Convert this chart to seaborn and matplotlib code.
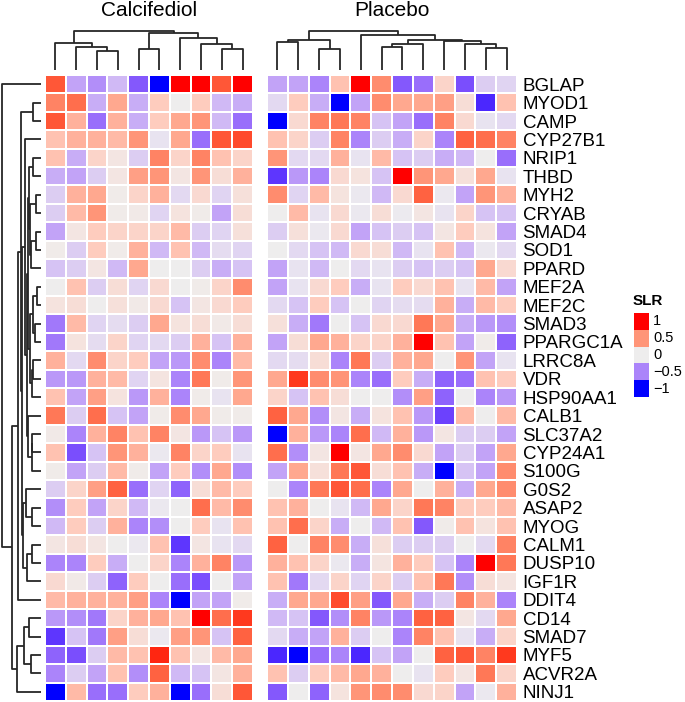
import numpy as np
import pandas as pd
import seaborn as sns
import matplotlib.pyplot as plt
from matplotlib.colors import LinearSegmentedColormap, to_rgb

genes = ["BGLAP", "MYOD1", "CAMP", "CYP27B1", "NRIP1", "THBD", "MYH2", "CRYAB",
         "SMAD4", "SOD1", "PPARD", "MEF2A", "MEF2C", "SMAD3", "PPARGC1A", "LRRC8A",
         "VDR", "HSP90AA1", "CALB1", "SLC37A2", "CYP24A1", "S100G", "G0S2", "ASAP2",
         "MYOG", "CALM1", "DUSP10", "IGF1R", "DDIT4", "CD14", "SMAD7", "MYF5",
         "ACVR2A", "NINJ1"]

# SLR values, rows in gene order, columns in displayed (dendrogram) order
calcifediol = [
    [0.8, -0.35, -0.45, -0.25, -0.7, -1, 1, 1, 0.8, 1],
    [0.6, 0.7, -0.3, 0.4, -0.3, 0.2, 0, 0.2, -0.25, -0.3],
    [0.8, 0.35, -0.6, 0.35, -0.3, 0.2, 0.4, 0.5, -0.25, -0.6],
    [0.25, 0.35, 0.35, 0.3, 0.5, -0.05, 0.4, -0.6, 0.8, 0.85],
    [0.25, -0.3, 0.15, 0.05, -0.15, 0.6, 0.15, 0.6, 0.25, 0.15],
    [-0.3, -0.35, -0.15, 0.05, 0.45, 0.5, 0.05, 0.5, 0.1, 0.35],
    [-0.15, 0.35, 0.4, 0.02, 0.15, 0.35, -0.1, 0.12, -0.12, 0.08],
    [-0.15, 0.3, 0.5, 0.02, 0.03, -0.12, 0.07, 0.02, -0.35, 0.1],
    [-0.35, 0.05, 0.2, 0.15, 0.15, 0.15, 0.3, -0.15, -0.12, 0.08],
    [0.02, -0.15, 0.2, 0.02, 0.35, -0.25, 0.25, -0.25, -0.08, -0.12],
    [-0.2, -0.15, 0.05, -0.25, 0.4, 0, 0, -0.15, -0.3, -0.2],
    [0, 0.25, -0.15, 0.1, -0.12, 0.12, 0, 0.02, 0.15, 0.55],
    [0.07, 0.1, 0, 0.08, 0.03, 0.12, -0.2, 0.05, 0.12, 0.2],
    [-0.55, 0.3, -0.12, -0.08, -0.15, 0.4, 0.07, 0.1, 0.03, 0.1],
    [-0.55, 0.07, -0.08, 0.15, -0.12, -0.1, -0.15, 0.35, -0.2, 0.35],
    [0.35, -0.1, 0.55, 0.15, 0.2, -0.35, -0.4, 0.55, -0.5, 0.3],
    [-0.4, -0.4, 0.35, 0.3, -0.12, 0.06, -0.5, 0.65, 0.02, 0.5],
    [0.25, -0.35, 0.45, 0.07, -0.4, 0.35, -0.5, 0.02, -0.05, 0.4],
    [0.65, -0.15, 0.7, -0.2, -0.35, 0.02, 0.55, 0.4, 0.02, 0.02],
    [0.03, -0.5, 0.35, 0.6, 0.25, 0.6, 0.05, -0.4, -0.2, -0.4],
    [0.25, -0.75, -0.2, 0.5, 0.35, -0.03, 0.6, 0.15, 0.2, -0.05],
    [0.02, -0.35, -0.15, 0.3, 0.02, -0.35, 0.2, -0.45, 0.4, -0.45],
    [-0.15, 0.15, 0.45, 0.75, -0.6, -0.12, -0.65, 0.1, 0.3, 0.2],
    [-0.45, 0.2, -0.35, 0.15, -0.25, -0.03, 0, 0.7, 0.3, 0.55],
    [-0.25, 0.2, -0.15, 0.35, -0.5, -0.45, 0, 0.2, -0.05, 0.25],
    [0.05, 0.1, 0.05, 0, -0.03, 0.25, -0.85, 0.05, -0.05, -0.1],
    [-0.5, -0.5, 0.2, -0.3, 0, 0.15, -0.5, 0.35, 0.6, -0.4],
    [0.12, 0.03, -0.15, -0.65, 0.2, 0, -0.6, -0.75, 0, -0.35],
    [0.3, 0.35, 0.35, 0.35, 0.45, -0.5, -1, -0.35, -0.35, 0.02],
    [-0.4, -0.45, -0.55, 0.15, 0.35, 0.4, 0.25, 1, 0.7, 0.9],
    [-0.85, -0.2, -0.55, 0.45, 0.1, -0.03, 0.45, 0.5, -0.2, 0.75],
    [-0.65, -0.75, -0.15, 0.3, 0.25, 0.95, 0.25, 0.05, 0.3, 0.4],
    [-0.5, -0.15, -0.35, 0.25, -0.45, 0.75, -0.25, -0.2, 0.05, 0.35],
    [-1, 0.3, -0.6, -0.6, 0.2, 0.35, -1, -0.6, 0.1, 0.8],
]

placebo = [
    [-0.35, -0.35, -0.5, 0.25, 1, 0.55, -0.7, -0.6, 0.15, -0.75, -0.15, -0.12],
    [-0.1, 0.2, -0.3, -1, -0.35, 0.55, 0.4, 0.4, 0.45, 0.1, -0.9, 0.25],
    [-1, 0.12, 0.6, 0.65, 0.6, -0.2, -0.35, -0.6, 0.6, 0.12, -0.05, -0.1],
    [0.25, 0.15, -0.15, 0.6, -0.5, -0.15, -0.3, 0.15, -0.5, 0.75, 0.7, 0.6],
    [0.5, -0.1, -0.1, 0.35, -0.05, 0.3, -0.2, -0.15, -0.3, -0.25, 0, -0.6],
    [-0.85, -0.4, -0.5, 0.12, 0.07, -0.2, 1, 0.5, 0.4, 0.08, 0.4, -0.05],
    [0.55, -0.12, 0.3, 0.07, -0.03, -0.25, 0.12, 0.75, -0.03, -0.35, 0.5, 0.35],
    [0, 0.3, -0.05, 0.12, -0.03, 0.1, -0.02, 0.05, -0.05, 0.15, -0.2, -0.2],
    [-0.15, 0.08, -0.03, 0.12, -0.35, -0.2, -0.15, -0.2, 0.05, 0.2, 0.07, -0.35],
    [0, -0.1, -0.2, -0.25, 0.12, 0.1, -0.25, -0.05, 0.25, -0.25, -0.03, -0.1],
    [-0.35, -0.05, -0.25, 0, -0.1, -0.05, -0.15, -0.2, -0.15, -0.2, 0.4, 0.12],
    [-0.35, -0.05, 0.12, 0.2, -0.3, -0.05, 0.2, 0.12, 0.25, -0.05, 0.3, -0.35],
    [-0.1, -0.2, 0.2, -0.2, 0, -0.12, -0.08, -0.08, 0.35, -0.3, 0.3, 0.2],
    [0.08, -0.3, -0.55, 0, -0.2, 0.12, 0.12, 0.65, 0.4, -0.3, -0.4, -0.45],
    [-0.35, 0.1, 0.4, 0.35, 0.15, 0.15, 0.35, 1, 0.25, -0.35, 0.02, -0.65],
    [-0.1, -0.08, 0.1, -0.5, 0.65, -0.15, 0.35, 0.4, 0, 0.5, -0.35, -0.05],
    [0.4, 0.9, 0.55, 0.5, -0.5, -0.6, 0.2, -0.3, -0.65, -0.6, 0.25, 0.2],
    [0.15, -0.2, 0.25, 0.1, 0, 0, -0.45, 0.45, -0.65, 0, -0.5, -0.4],
    [0.75, 0.4, -0.45, 0.05, -0.3, 0.07, 0.25, -0.4, -0.8, 0.3, 0, 0.3],
    [-1, 0.35, -0.4, -0.5, 0.7, -0.25, 0.35, -0.4, 0.05, -0.15, -0.15, -0.35],
    [0.7, -0.45, 0.05, 1, 0.05, 0.4, 0.55, 0.12, -0.35, -0.15, -0.35, 0.4],
    [-0.35, 0.4, 0.08, 0.65, 0.8, 0.1, 0.25, -0.3, -1, -0.2, -0.35, 0.55],
    [0, -0.5, 0.65, 0.8, 0.7, -0.5, 0.4, 0, 0.35, -0.3, 0.4, 0.55],
    [0.25, 0.35, 0, -0.05, -0.25, 0.4, 0.15, 0.65, 0.6, 0.2, 0.2, 0.3],
    [0.25, 0.7, 0.15, -0.3, 0, -0.25, 0.25, -0.7, 0.02, 0.25, 0.07, 0.25],
    [0.75, 0, 0.6, 0.55, -0.3, 0.08, -0.15, -0.15, -0.15, 0, -0.1, 0.6],
    [0.35, 0.25, 0.15, -0.03, -0.3, 0.06, 0.35, 0.2, -0.2, -0.5, 1, 0.65],
    [0.25, -0.55, -0.1, 0.15, -0.12, 0.15, -0.15, 0.25, 0.65, -0.45, 0.1, 0.06],
    [-0.3, 0.4, 0.4, 0.85, 0.45, -0.7, 0.4, -0.3, -0.15, 0.6, 0.35, -0.5],
    [-0.25, -0.2, -0.7, -0.45, 0.6, -0.4, -0.5, 0.75, 0.75, 0.05, -0.1, 0.4],
    [-0.1, -0.3, -0.35, 0.35, -0.15, 0, -0.5, 0.6, 0.25, -0.05, -0.3, 0.15],
    [-0.9, -1, -0.6, -0.5, -0.9, -0.2, -0.35, 0, 0.75, 0.8, 0.6, 0.9],
    [0.25, -0.15, 0.2, 0.3, 0.4, 0.35, 0, -0.05, 0.2, 0.05, 0.65, 0.15],
    [-0.7, 0, -0.65, 0.07, 0.5, 0.55, 0.55, 0.12, 0.15, -0.35, -0.03, 0.35],
]

# dendrograms: [left, right, merge height], leaves are displayed positions
calc_tree = [[0, [1, [2, 3, 58], 70], 82],
             [[4, 5, 62], [6, [7, [8, 9, 62], 77], 97], 110], 117]
plac_tree = [[[0, 1, 83], [2, 3, 63], 90],
             [4, [[[5, 6, 70], 7, 77], [8, [9, [10, 11, 65], 77], 88], 90], 105], 118]

row_g1 = [[4, 5, 7.7], [[6, 7, 5.3], [[8, 9, 5.3], 10, 10], 11], 12]
row_g2 = [[[11, 12, 4.3], [13, 14, 6], 8], [[15, 16, 8], 17, 9], 10.7]
row_h = [18, [[19, 20, 8.7], 21, 9.5], 12.7]
row_w = [[22, [23, 24, 8.7], 15], [[25, 26, 8.7], 27, 14.3], 17.7]
row_y = [[3, [[row_g1, row_g2, 13], row_h, 14], 16], row_w, 19.3]
row_b = [[[1, 2, 7.7], row_y, 20.3], 28, 22.7]
row_c = [[[29, 30, 11.7], [31, 32, 10.3], 17], 33, 23.7]
row_tree = [0, [row_b, row_c, 28.7], 39.3]

legend_values = [1, 0.5, 0, -0.5, -1]
legend_labels = ["1", "0.5", "0", "\u22120.5", "\u22121"]

# colour ramp blue - #EEEEEE - red interpolated in LAB space
M = np.array([[0.4124, 0.3576, 0.1805], [0.2126, 0.7152, 0.0722], [0.0193, 0.1192, 0.9505]])
WHITE = np.array([0.95047, 1.0, 1.08883])


def to_lab(col):
    rgb = np.array(to_rgb(col))
    lin = np.where(rgb <= 0.04045, rgb / 12.92, ((rgb + 0.055) / 1.055) ** 2.4)
    xyz = M @ lin / WHITE
    f = np.where(xyz > (6 / 29) ** 3, np.cbrt(xyz), xyz / (3 * (6 / 29) ** 2) + 4 / 29)
    return np.array([116 * f[1] - 16, 500 * (f[0] - f[1]), 200 * (f[1] - f[2])])


def from_lab(lab):
    fy = (lab[0] + 16) / 116
    f = np.array([fy + lab[1] / 500, fy, fy - lab[2] / 200])
    xyz = np.where(f > 6 / 29, f ** 3, 3 * (6 / 29) ** 2 * (f - 4 / 29)) * WHITE
    lin = np.clip(np.linalg.solve(M, xyz), 0, 1)
    rgb = np.where(lin <= 0.0031308, 12.92 * lin, 1.055 * lin ** (1 / 2.4) - 0.055)
    return tuple(np.clip(rgb, 0, 1))


lab_blue, lab_mid, lab_red = to_lab("#0000FF"), to_lab("#EEEEEE"), to_lab("#FF0000")
ramp = []
for t in np.linspace(-1, 1, 81):
    if t < 0:
        lab = lab_blue + (t + 1) * (lab_mid - lab_blue)
    else:
        lab = lab_mid + t * (lab_red - lab_mid)
    ramp.append(from_lab(lab))
cmap = LinearSegmentedColormap.from_list("slr", ramp)

plt.rcParams["font.family"] = ["Liberation Sans", "DejaVu Sans"]

W, H = 685, 702
fig = plt.figure(figsize=(W / 100, H / 100), dpi=100)


def px_axes(x0, y0, x1, y1):
    return fig.add_axes([x0 / W, 1 - y1 / H, (x1 - x0) / W, (y1 - y0) / H])


def draw_tree(ax, node, side):
    if isinstance(node, int):
        return node + 0.5, 0
    left, right, h = node
    cl, hl = draw_tree(ax, left, side)
    cr, hr = draw_tree(ax, right, side)
    pos = [cl, cl, cr, cr]
    hts = [hl, h, h, hr]
    if side == "top":
        ax.plot(pos, hts, color="#262626", lw=1.3, solid_capstyle="butt")
    else:
        ax.plot(hts, pos, color="#262626", lw=1.3, solid_capstyle="butt")
    return (cl + cr) / 2, h


top, bottom = 75, 701
groups = [("Calcifediol", calcifediol, calc_tree, 45, 253),
          ("Placebo", placebo, plac_tree, 267, 517)]

for name, values, tree, x0, x1 in groups:
    df = pd.DataFrame(values, index=genes)
    ax = px_axes(x0, top, x1, bottom)
    sns.heatmap(df, ax=ax, cmap=cmap, vmin=-1, vmax=1, cbar=False,
                linewidths=1.2, linecolor="white", xticklabels=False,
                yticklabels=genes if name == "Placebo" else False)
    ax.set_xlabel("")
    ax.set_ylabel("")
    if name == "Placebo":
        ax.yaxis.tick_right()
        ax.tick_params(axis="y", length=0, pad=4, labelsize=13.5, labelrotation=0)

    dax = px_axes(x0, 25, x1, 75)
    draw_tree(dax, tree, "top")
    dax.set_xlim(0, len(values[0]))
    dax.set_ylim(-15, 135)
    dax.axis("off")

    fig.text((x0 + x1) / 2 / W, 1 - 16 / H, name, ha="center", va="baseline", fontsize=15)

rax = px_axes(0, top, 45, bottom)
draw_tree(rax, row_tree, "left")
rax.set_xlim(41, -4)
rax.set_ylim(len(genes), 0)
rax.axis("off")

# legend
fig.text(633 / W, 1 - 305 / H, "SLR", fontsize=11, fontweight="bold", va="baseline")
lax = px_axes(634, 313, 649, 397)
sns.heatmap(pd.DataFrame({"SLR": legend_values}), ax=lax, cmap=cmap, vmin=-1, vmax=1,
            cbar=False, xticklabels=False, yticklabels=False)
lax.set_xlabel("")
lax.set_ylabel("")
for i, lab in enumerate(legend_labels):
    fig.text(653 / W, 1 - (313 + 16.8 * (i + 0.5)) / H, lab, fontsize=10.5, va="center")

fig.savefig("out.png", dpi=100)
